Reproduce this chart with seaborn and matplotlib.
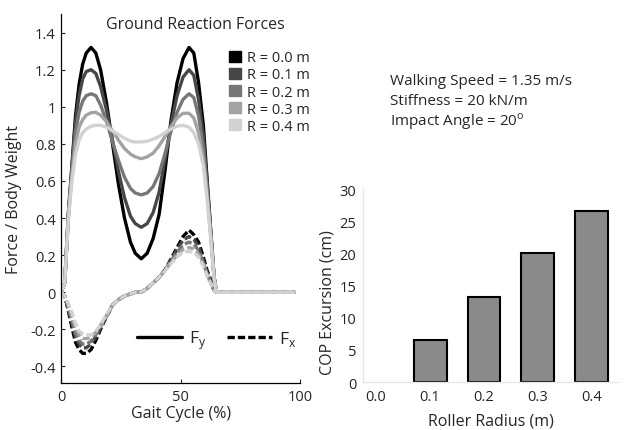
import pandas as pd
import seaborn as sns
import matplotlib.pyplot as plt
from matplotlib.lines import Line2D
from matplotlib.patches import Patch

# gait cycle (%) sample points shared by all curves
gait = [0, 1.5, 3, 4.5, 6, 7.5, 9, 10.5, 12.5, 14.5, 16.5, 19, 21.5, 24, 26.5, 29, 31,
        33.5, 36, 38.5, 41, 43.5, 46, 48.5, 51, 53.5, 55.5, 57.5, 59.5, 61, 62.5, 64, 65, 97.5]

radii = ['0.0', '0.1', '0.2', '0.3', '0.4']

fy_r00 = [0, 0.05, 0.42, 0.68, 0.95, 1.12, 1.23, 1.29, 1.32, 1.29, 1.20, 1.02, 0.80, 0.58, 0.40, 0.27, 0.21,
          0.18, 0.21, 0.29, 0.42, 0.66, 0.93, 1.13, 1.26, 1.32, 1.29, 1.13, 0.90, 0.62, 0.35, 0.08, 0, 0]
fy_r01 = [0, 0.05, 0.42, 0.67, 0.92, 1.06, 1.15, 1.19, 1.20, 1.18, 1.11, 0.98, 0.82, 0.65, 0.51, 0.41, 0.37,
          0.35, 0.37, 0.43, 0.54, 0.72, 0.91, 1.06, 1.16, 1.20, 1.17, 1.04, 0.84, 0.60, 0.34, 0.08, 0, 0]
fy_r02 = [0, 0.05, 0.41, 0.65, 0.86, 0.97, 1.03, 1.06, 1.07, 1.06, 1.01, 0.92, 0.81, 0.71, 0.62, 0.56, 0.535,
          0.525, 0.535, 0.57, 0.64, 0.75, 0.87, 0.97, 1.04, 1.07, 1.05, 0.95, 0.78, 0.57, 0.33, 0.08, 0, 0]
fy_r03 = [0, 0.05, 0.40, 0.63, 0.80, 0.89, 0.93, 0.955, 0.968, 0.97, 0.955, 0.92, 0.87, 0.82, 0.775, 0.745, 0.73,
          0.72, 0.73, 0.75, 0.79, 0.84, 0.895, 0.94, 0.965, 0.965, 0.94, 0.86, 0.72, 0.54, 0.32, 0.08, 0, 0]
fy_r04 = [0, 0.05, 0.39, 0.60, 0.74, 0.82, 0.86, 0.88, 0.895, 0.90, 0.90, 0.89, 0.87, 0.85, 0.83, 0.815, 0.81,
          0.81, 0.815, 0.825, 0.84, 0.86, 0.88, 0.895, 0.90, 0.89, 0.86, 0.80, 0.68, 0.51, 0.30, 0.07, 0, 0]

fx_r00 = [0, -0.02, -0.10, -0.19, -0.27, -0.31, -0.33, -0.33, -0.31, -0.26, -0.20, -0.13, -0.07, -0.04, -0.02, -0.01, 0.0,
          0.0, 0.02, 0.05, 0.08, 0.12, 0.18, 0.24, 0.30, 0.335, 0.31, 0.27, 0.19, 0.12, 0.07, 0.01, 0, 0]
fx_r01 = [0, -0.02, -0.09, -0.17, -0.24, -0.28, -0.30, -0.30, -0.28, -0.24, -0.19, -0.13, -0.07, -0.04, -0.02, -0.01, 0.0,
          0.0, 0.02, 0.05, 0.08, 0.12, 0.175, 0.23, 0.28, 0.30, 0.285, 0.245, 0.17, 0.11, 0.06, 0.01, 0, 0]
fx_r02 = [0, -0.02, -0.08, -0.15, -0.22, -0.26, -0.28, -0.28, -0.265, -0.23, -0.185, -0.13, -0.07, -0.04, -0.02, -0.01, 0.0,
          0.0, 0.02, 0.05, 0.08, 0.12, 0.17, 0.215, 0.255, 0.27, 0.26, 0.225, 0.16, 0.10, 0.055, 0.01, 0, 0]
fx_r03 = [0, -0.02, -0.07, -0.13, -0.19, -0.23, -0.25, -0.25, -0.245, -0.215, -0.18, -0.125, -0.07, -0.04, -0.02, -0.01, 0.0,
          0.0, 0.02, 0.05, 0.08, 0.12, 0.16, 0.20, 0.23, 0.24, 0.235, 0.205, 0.15, 0.095, 0.05, 0.01, 0, 0]
fx_r04 = [0, -0.02, -0.06, -0.11, -0.17, -0.21, -0.225, -0.23, -0.23, -0.21, -0.175, -0.12, -0.07, -0.04, -0.02, -0.01, 0.0,
          0.0, 0.02, 0.05, 0.08, 0.115, 0.155, 0.19, 0.215, 0.22, 0.215, 0.19, 0.14, 0.09, 0.05, 0.01, 0, 0]

# COP excursion bar chart
bar_radius = ['0.0', '0.1', '0.2', '0.3', '0.4']
cop_cm = [0, 6.6, 13.3, 20.0, 26.6]

grays = ['#000000', '#474747', '#777777', '#a3a3a3', '#d2d2d2']

sns.set_style('white')
plt.rcParams['font.family'] = ['Open Sans', 'DejaVu Sans']
plt.rcParams['mathtext.fontset'] = 'custom'
plt.rcParams['mathtext.rm'] = 'Open Sans'

fy_all = [fy_r00, fy_r01, fy_r02, fy_r03, fy_r04]
fx_all = [fx_r00, fx_r01, fx_r02, fx_r03, fx_r04]
rows = []
for r, fy, fx in zip(radii, fy_all, fx_all):
    for g, a, b in zip(gait, fy, fx):
        rows.append({'gait': g, 'force': a, 'R': r, 'comp': 'Fy'})
        rows.append({'gait': g, 'force': b, 'R': r, 'comp': 'Fx'})
df = pd.DataFrame(rows)

fig = plt.figure(figsize=(6.24, 4.31), dpi=100)
ax1 = fig.add_axes([0.098, 0.109, 0.383, 0.856])
ax2 = fig.add_axes([0.582, 0.111, 0.408, 0.448])

sns.lineplot(data=df, x='gait', y='force', hue='R', style='comp', palette=grays,
             dashes={'Fy': '', 'Fx': (2.2, 0.9)}, linewidth=2.4, legend=False,
             estimator=None, sort=False, ax=ax1)

ax1.set_xlim(0, 100)
ax1.set_ylim(-0.49, 1.5)
ax1.set_xticks([0, 50, 100])
ax1.set_xticklabels(['0', '50', '100'])
yt = [-0.4, -0.2, 0, 0.2, 0.4, 0.6, 0.8, 1, 1.2, 1.4]
ax1.set_yticks(yt)
ax1.set_yticklabels(['-0.4', '-0.2', '0', '0.2', '0.4', '0.6', '0.8', '1', '1.2', '1.4'])
ax1.tick_params(direction='in', length=3, width=0.8, labelsize=10.5, pad=4, left=True, bottom=True)
for s in ['top', 'right']:
    ax1.spines[s].set_visible(False)
for s in ['left', 'bottom']:
    ax1.spines[s].set_color('black')
    ax1.spines[s].set_linewidth(0.9)
ax1.set_xlabel('Gait Cycle (%)', fontsize=11.5, labelpad=1)
ax1.set_ylabel('Force / Body Weight', fontsize=11.5, labelpad=6)
ax1.text(0.56, 0.995, 'Ground Reaction Forces', transform=ax1.transAxes,
         ha='center', va='top', fontsize=11.5)

r_handles = [Patch(facecolor=c, edgecolor=c) for c in grays]
leg1 = ax1.legend(r_handles, [f'R = {r} m' for r in radii], loc='upper left',
                  bbox_to_anchor=(0.68, 0.918), frameon=False, fontsize=10.5,
                  handlelength=0.8, handleheight=0.8, handletextpad=0.4,
                  labelspacing=0.15, borderaxespad=0)
ax1.add_artist(leg1)
f_handles = [Line2D([], [], color='black', lw=2.4),
             Line2D([], [], color='black', lw=2.4, dashes=(2.2, 0.9))]
ax1.legend(f_handles, [r'F$_{\mathrm{y}}$', r'F$_{\mathrm{x}}$'], loc='center left',
           bbox_to_anchor=(0.318, 0.118), ncol=2, frameon=False, fontsize=12.5,
           handlelength=2.6, handletextpad=0.4, columnspacing=1.2, borderaxespad=0,
           borderpad=0)

sns.barplot(x=bar_radius, y=cop_cm, color='#8a8a8a', edgecolor='black', linewidth=1.5,
            width=0.61, saturation=1, ax=ax2)
# no outline for the empty bar at R = 0
for p in ax2.patches:
    if p.get_height() == 0:
        p.set_linewidth(0)
ax2.set_xlim(-0.24, 4.48)
ax2.set_ylim(0, 30)
ax2.set_yticks([0, 5, 10, 15, 20, 25, 30])
ax2.tick_params(length=0, labelsize=10.5, pad=5)
for s in ['top', 'right']:
    ax2.spines[s].set_visible(False)
for s in ['left', 'bottom']:
    ax2.spines[s].set_color('#e6e6e6')
    ax2.spines[s].set_linewidth(1)
ax2.set_xlabel('Roller Radius (m)', fontsize=11.5, labelpad=6)
ax2.set_ylabel('COP Excursion (cm)', fontsize=11.5)
ax2.yaxis.set_label_coords(-0.108, 0.415)

fig.text(0.625, 0.812, 'Walking Speed = 1.35 m/s', fontsize=11, va='center')
fig.text(0.625, 0.765, 'Stiffness = 20 kN/m', fontsize=11, va='center')
fig.text(0.625, 0.717, r'Impact Angle = 20$^{\mathrm{o}}$', fontsize=11, va='center')

fig.savefig('out.png', dpi=100)
